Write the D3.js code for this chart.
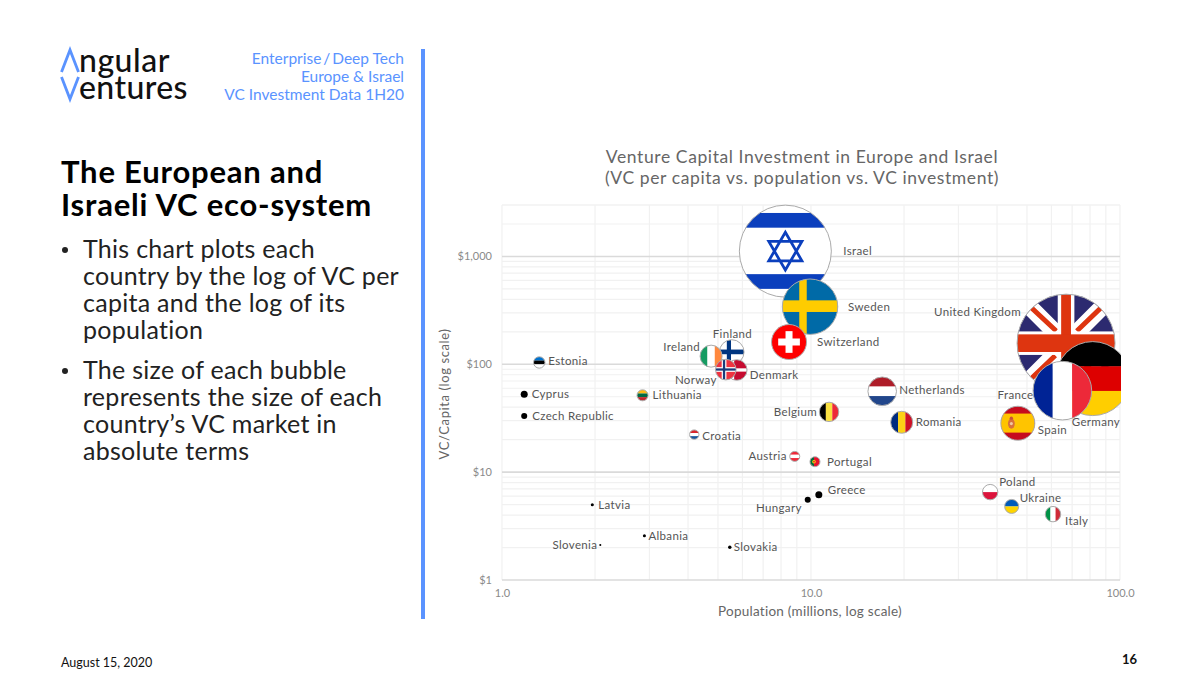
<!DOCTYPE html>
<html>
<head>
<meta charset="utf-8">
<title>Venture Capital Investment in Europe and Israel</title>
<script src="https://cdn.jsdelivr.net/npm/d3@7"></script>
<style>
  html, body { margin: 0; padding: 0; background: #fff; }
  svg { display: block; }
  text { font-family: Lato, "Noto Sans", sans-serif; font-variant-ligatures: none; }
</style>
</head>
<body>
<div id="slide"></div>
<script>
"use strict";

// data (drawing order = stacking order)
const countries = ["Israel", "Sweden", "Switzerland", "United Kingdom", "Germany", "France", "Finland", "Ireland", "Denmark", "Norway", "Netherlands", "Belgium", "Romania", "Spain", "Croatia", "Estonia", "Cyprus", "Czech Republic", "Lithuania", "Austria", "Portugal", "Latvia", "Albania", "Slovenia", "Slovakia", "Hungary", "Greece", "Poland", "Ukraine", "Italy"];
const population = [8.26, 9.93, 8.49, 66.9, 81.6, 65.1, 5.54, 4.75, 5.75, 5.3, 17.0, 11.44, 19.66, 46.7, 4.19, 1.32, 1.18, 1.18, 2.85, 8.86, 10.3, 1.96, 2.89, 2.08, 5.46, 9.76, 10.6, 38.0, 44.6, 60.7];
const vcPerCapita = [1120, 342, 161, 157, 73.7, 57, 130, 119, 88.6, 89.3, 56.2, 36.2, 29, 28.4, 22.3, 104, 52.7, 33.2, 51.6, 14, 12.5, 4.98, 2.57, 2.11, 2.01, 5.54, 6.17, 6.53, 4.81, 4.08];
const vcInvestment = [10000, 3626, 1447, 11347, 6470, 4057, 715, 572, 501, 501, 966, 445, 572, 1366, 104, 154, 58, 43, 143, 118, 118, 11, 11, 5, 14, 43, 58, 280, 232, 280];

const xTickLabels = ["1.0", "10.0", "100.0"];
const yTickLabels = ["$1", "$10", "$100", "$1,000"];
const bulletLines = [
  ["This chart plots each", "country by the log of VC per", "capita and the log of its", "population"],
  ["The size of each bubble", "represents the size of each", "country\u2019s VC market in", "absolute terms"],
];
const headerLines = ["Enterprise\u2009/\u2009Deep Tech", "Europe & Israel", "VC Investment Data 1H20"];

// label placement relative to the bubble centre: dx, dy, anchor
const labelPos = {
  "Israel": [58, 0, "start"], "Sweden": [38, 0, "start"], "Switzerland": [28, 0, "start"],
  "Finland": [-19, -18, "start"], "Ireland": [-11, -9, "end"], "Norway": [-9, 10, "end"],
  "Denmark": [13, 5, "start"], "Netherlands": [17, -1, "start"], "Belgium": [-12, 0, "end"],
  "Romania": [14, 0, "start"], "Spain": [20, 7, "start"], "France": [-29, 4, "end"],
  "Germany": [-21, 43, "start"], "United Kingdom": [-45, -31, "end"], "Croatia": [8, 1, "start"],
  "Estonia": [9, -1, "start"], "Cyprus": [7.5, 0, "start"], "Czech Republic": [8, 0, "start"],
  "Lithuania": [10, 0, "start"], "Austria": [-8, 0, "end"], "Portugal": [12, 0, "start"],
  "Latvia": [6, 0, "start"], "Albania": [4, 0, "start"], "Slovenia": [-3, 0, "end"],
  "Slovakia": [4, 0, "start"], "Hungary": [-6, 8, "end"], "Greece": [9, -5, "start"],
  "Poland": [9, -10, "start"], "Ukraine": [8, -8, "start"], "Italy": [12, 7, "start"],
};

// plain striped flags
const stripes = {
  "Netherlands": ["h", "#ae1c28", "#fff", "#21468b"],
  "Belgium": ["v", "#000", "#fae042", "#ed2939"],
  "Romania": ["v", "#002b7f", "#fcd116", "#ce1126"],
  "France": ["v", "#002395", "#fff", "#ed2939"],
  "Germany": ["h", "#000", "#dd0000", "#ffce00"],
  "Ireland": ["v", "#169b62", "#fff", "#ff883e"],
  "Croatia": ["h", "#d8262c", "#fff", "#17559c"],
  "Estonia": ["h", "#0072ce", "#000", "#fff"],
  "Lithuania": ["h", "#fdb913", "#006a44", "#c1272d"],
  "Austria": ["h", "#ed2939", "#fff", "#ed2939"],
  "Poland": ["h", "#fff", "#dc143c"],
  "Ukraine": ["h", "#005bbb", "#ffd500"],
  "Italy": ["v", "#009246", "#fff", "#ce2b37"],
};

const blue = "#5a93ff";
const width = 1200;
const height = 680;

const svg = d3.select("#slide").append("svg").attr("width", width).attr("height", height);

///////////////////////////////////////////////////////
// left hand side of the slide

const logo = svg.append("g");
logo.append("path")
  .attr("d", "M61.5,72 L70,50 L78.5,72 M61.5,77 L70,99 L78.5,77")
  .attr("fill", "none")
  .attr("stroke", blue)
  .attr("stroke-width", 2.8);
logo.append("text").attr("x", 79).attr("y", 72).attr("font-size", 32).attr("font-weight", 500).attr("letter-spacing", 0.5).attr("fill", "#111").text("ngular");
logo.append("text").attr("x", 79).attr("y", 98.5).attr("font-size", 32).attr("font-weight", 500).attr("letter-spacing", 0.4).attr("fill", "#111").text("entures");

svg.append("g")
  .selectAll("text")
  .data(headerLines)
  .enter()
  .append("text")
  .attr("x", 404)
  .attr("y", (d, i) => 63.5 + i * 18)
  .attr("text-anchor", "end")
  .attr("font-size", 15.5)
  .attr("fill", blue)
  .text((d) => d);

svg.append("rect").attr("x", 421).attr("y", 49).attr("width", 4).attr("height", 570).attr("fill", blue);

svg.selectAll(".headline")
  .data(["The European and", "Israeli VC eco-system"])
  .enter()
  .append("text")
  .attr("class", "headline")
  .attr("x", 61)
  .attr("y", (d, i) => 183 + i * 33)
  .attr("font-size", 31)
  .attr("font-weight", 700)
  .attr("letter-spacing", 0.8)
  .attr("fill", "#000")
  .text((d) => d);

bulletLines.forEach((lines, b) => {
  const top = b === 0 ? 258 : 379;
  svg.append("circle").attr("cx", 65).attr("cy", top - 8).attr("r", 3).attr("fill", "#222");
  lines.forEach((line, i) => {
    svg.append("text")
      .attr("x", 83)
      .attr("y", top + i * 27)
      .attr("font-size", 25)
      .attr("letter-spacing", 0.28)
      .attr("fill", "#222")
      .text(line);
  });
});

svg.append("text").attr("x", 61).attr("y", 667).attr("font-size", 12.5).attr("fill", "#111").text("August 15, 2020");
svg.append("text").attr("x", 1137).attr("y", 664).attr("text-anchor", "end").attr("font-size", 13).attr("font-weight", 700).attr("fill", "#111").text("16");

///////////////////////////////////////////////////////
// chart

const xScale = d3.scaleLog().domain([1, 100]).range([502, 1120]);
const yScale = d3.scaleLog().domain([1, 3000]).range([580, 205]);
const rScale = d3.scaleSqrt().domain([0, 10000]).range([0, 46]);

svg.selectAll(".chart-title")
  .data(["Venture Capital Investment in Europe and Israel", "(VC per capita vs. population vs. VC investment)"])
  .enter()
  .append("text")
  .attr("class", "chart-title")
  .attr("x", 802)
  .attr("y", (d, i) => 163 + i * 21)
  .attr("text-anchor", "middle")
  .attr("font-size", 17.5)
  .attr("letter-spacing", 0.6)
  .attr("fill", "#666")
  .text((d) => d);

// grid
const grid = svg.append("g");
grid.selectAll(".vgrid")
  .data(xScale.ticks())
  .enter()
  .append("line")
  .attr("x1", (d) => xScale(d))
  .attr("x2", (d) => xScale(d))
  .attr("y1", 205)
  .attr("y2", 580)
  .attr("stroke", "#f1f1f1")
  .attr("stroke-width", 1.2);
grid.selectAll(".hgrid")
  .data(yScale.ticks())
  .enter()
  .append("line")
  .attr("x1", 502)
  .attr("x2", 1120)
  .attr("y1", (d) => yScale(d))
  .attr("y2", (d) => yScale(d))
  .attr("stroke", (d) => (Number.isInteger(Math.log10(d)) ? "#dadada" : "#f1f1f1"))
  .attr("stroke-width", (d) => (Number.isInteger(Math.log10(d)) ? 1.6 : 1.2));
grid.append("line").attr("x1", 502).attr("x2", 1120).attr("y1", 205).attr("y2", 205).attr("stroke", "#f1f1f1").attr("stroke-width", 1.2);

// axes
const xAxis = d3.axisBottom(xScale)
  .tickValues([1, 10, 100])
  .tickFormat((d, i) => xTickLabels[i])
  .tickSize(0)
  .tickPadding(9);
const yAxis = d3.axisLeft(yScale)
  .tickValues([1, 10, 100, 1000])
  .tickFormat((d, i) => yTickLabels[i])
  .tickSize(0)
  .tickPadding(10);

const xAxisG = svg.append("g").attr("transform", "translate(0,580)").call(xAxis);
const yAxisG = svg.append("g").attr("transform", "translate(502,0)").call(yAxis);
[xAxisG, yAxisG].forEach((g) => {
  g.select(".domain").remove();
  g.selectAll("text").attr("font-size", 11).attr("font-family", "Lato").attr("fill", "#8a8a8a");
});

svg.append("text")
  .attr("x", 810)
  .attr("y", 616)
  .attr("text-anchor", "middle")
  .attr("font-size", 13.5)
  .attr("letter-spacing", 0.25)
  .attr("fill", "#666")
  .text("Population (millions, log scale)");
svg.append("text")
  .attr("transform", "translate(449,394) rotate(-90)")
  .attr("text-anchor", "middle")
  .attr("font-size", 13)
  .attr("letter-spacing", 0.6)
  .attr("fill", "#666")
  .text("VC/Capita (log scale)");

///////////////////////////////////////////////////////
// bubbles

const dataset = countries.map((name, i) => ({
  name: name,
  pop: population[i],
  vc: vcPerCapita[i],
  total: vcInvestment[i],
}));

const defs = svg.append("defs");
defs.append("clipPath").attr("id", "plot-clip")
  .append("rect").attr("x", 502).attr("y", 204).attr("width", 619).attr("height", 377);

// helpers, flags are drawn in a unit square around the bubble centre
const band = (g, x, y, w, h, fill) =>
  g.append("rect").attr("x", x).attr("y", y).attr("width", w).attr("height", h).attr("fill", fill);

const drawStripes = (g, spec) => {
  const cols = spec.slice(1);
  const n = cols.length;
  cols.forEach((c, i) => {
    if (spec[0] === "h") band(g, -1, -1 + (i * 2) / n, 2, 2 / n + 0.01, c);
    else band(g, -1 + (i * 2) / n, -1, 2 / n + 0.01, 2, c);
  });
};

const specialFlags = {
  "Israel": (g) => {
    band(g, -1, -1, 2, 2, "#fff");
    band(g, -1, -0.83, 2, 0.32, "#0b3fbd");
    band(g, -1, 0.5, 2, 0.32, "#0b3fbd");
    g.append("path")
      .attr("d", "M0,-0.41 L0.36,0.21 L-0.36,0.21 Z M0,0.41 L0.36,-0.21 L-0.36,-0.21 Z")
      .attr("fill", "none")
      .attr("stroke", "#0b3fbd")
      .attr("stroke-width", 0.06);
  },
  "Sweden": (g) => {
    band(g, -1, -1, 2, 2, "#006aa7");
    band(g, -0.39, -1, 0.27, 2, "#fecc00");
    band(g, -1, -0.23, 2, 0.42, "#fecc00");
  },
  "Switzerland": (g) => {
    band(g, -1, -1, 2, 2, "#ff0000");
    band(g, -0.2, -0.62, 0.4, 1.24, "#fff");
    band(g, -0.62, -0.2, 1.24, 0.4, "#fff");
  },
  "Finland": (g) => {
    band(g, -1, -1, 2, 2, "#fff");
    band(g, -0.4, -1, 0.34, 2, "#003580");
    band(g, -1, -0.2, 2, 0.38, "#003580");
  },
  "Denmark": (g) => {
    band(g, -1, -1, 2, 2, "#c60c30");
    band(g, -0.5, -1, 0.25, 2, "#fff");
    band(g, -1, -0.16, 2, 0.32, "#fff");
  },
  "Norway": (g) => {
    band(g, -1, -1, 2, 2, "#ef3340");
    band(g, -0.4, -1, 0.46, 2, "#fff");
    band(g, -1, -0.24, 2, 0.46, "#fff");
    band(g, -0.28, -1, 0.22, 2, "#1a3a7a");
    band(g, -1, -0.12, 2, 0.22, "#1a3a7a");
  },
  "Spain": (g) => {
    band(g, -1, -1, 2, 2, "#c60b1e");
    band(g, -1, -0.57, 2, 1.12, "#ffc400");
    // small coat of arms
    g.append("ellipse").attr("cx", -0.38).attr("cy", 0.02).attr("rx", 0.2).attr("ry", 0.3).attr("fill", "#d8703c");
    g.append("circle").attr("cx", -0.38).attr("cy", -0.3).attr("r", 0.1).attr("fill", "#c8503a");
    g.append("circle").attr("cx", -0.38).attr("cy", 0.02).attr("r", 0.09).attr("fill", "#f0c9a0");
  },
  "Portugal": (g) => {
    band(g, -1, -1, 2, 2, "#e8112d");
    band(g, -1, -1, 0.8, 2, "#046a38");
    g.append("circle").attr("cx", -0.2).attr("cy", 0).attr("r", 0.35).attr("fill", "#ffe900");
    g.append("circle").attr("cx", -0.2).attr("cy", 0).attr("r", 0.18).attr("fill", "#e8112d");
  },
  "United Kingdom": (g) => {
    band(g, -1, -1, 2, 2, "#2c2a70");
    g.append("path").attr("d", "M-1,-1 L1,1 M1,-1 L-1,1").attr("stroke", "#fff").attr("stroke-width", 0.34);
    g.append("path").attr("d", "M-0.95,-0.95 L-0.2,-0.25 M0.95,-0.95 L0.22,-0.25 M-0.95,0.95 L-0.22,0.25 M0.95,0.95 L0.2,0.25")
      .attr("stroke", "#de3510").attr("stroke-width", 0.1);
    band(g, -0.17, -1, 0.34, 2, "#fff");
    band(g, -1, -0.24, 2, 0.48, "#fff");
    band(g, -0.1, -1, 0.2, 2, "#de3510");
    band(g, -1, -0.18, 2, 0.36, "#de3510");
  },
};

const bubbles = svg.append("g")
  .attr("clip-path", "url(#plot-clip)")
  .selectAll(".bubble")
  .data(dataset)
  .enter()
  .append("g")
  .attr("class", "bubble")
  .attr("transform", (d) => "translate(" + xScale(d.pop) + "," + yScale(d.vc) + ")");

bubbles.each(function (d, i) {
  const r = rScale(d.total);
  const g = d3.select(this);
  const isFlag = stripes[d.name] || specialFlags[d.name];

  if (!isFlag) {
    // countries without a flag are just black dots
    g.append("circle").attr("r", r).attr("fill", "#000");
    return;
  }

  defs.append("clipPath").attr("id", "flag-" + i).append("circle").attr("r", r);
  const flag = g.append("g")
    .attr("clip-path", "url(#flag-" + i + ")")
    .append("g")
    .attr("transform", "scale(" + r + ")");
  if (stripes[d.name]) drawStripes(flag, stripes[d.name]);
  else specialFlags[d.name](flag);

  g.append("circle")
    .attr("r", r)
    .attr("fill", "none")
    .attr("stroke", "#aaa")
    .attr("stroke-width", 1);
});

// labels go on top of everything
svg.append("g")
  .selectAll("text")
  .data(dataset)
  .enter()
  .append("text")
  .attr("x", (d) => xScale(d.pop) + labelPos[d.name][0])
  .attr("y", (d) => yScale(d.vc) + labelPos[d.name][1])
  .attr("dy", ".35em")
  .attr("text-anchor", (d) => labelPos[d.name][2])
  .attr("font-size", 11.5)
  .attr("letter-spacing", 0.35)
  .attr("fill", "#555")
  .text((d) => d.name);
</script>
</body>
</html>
